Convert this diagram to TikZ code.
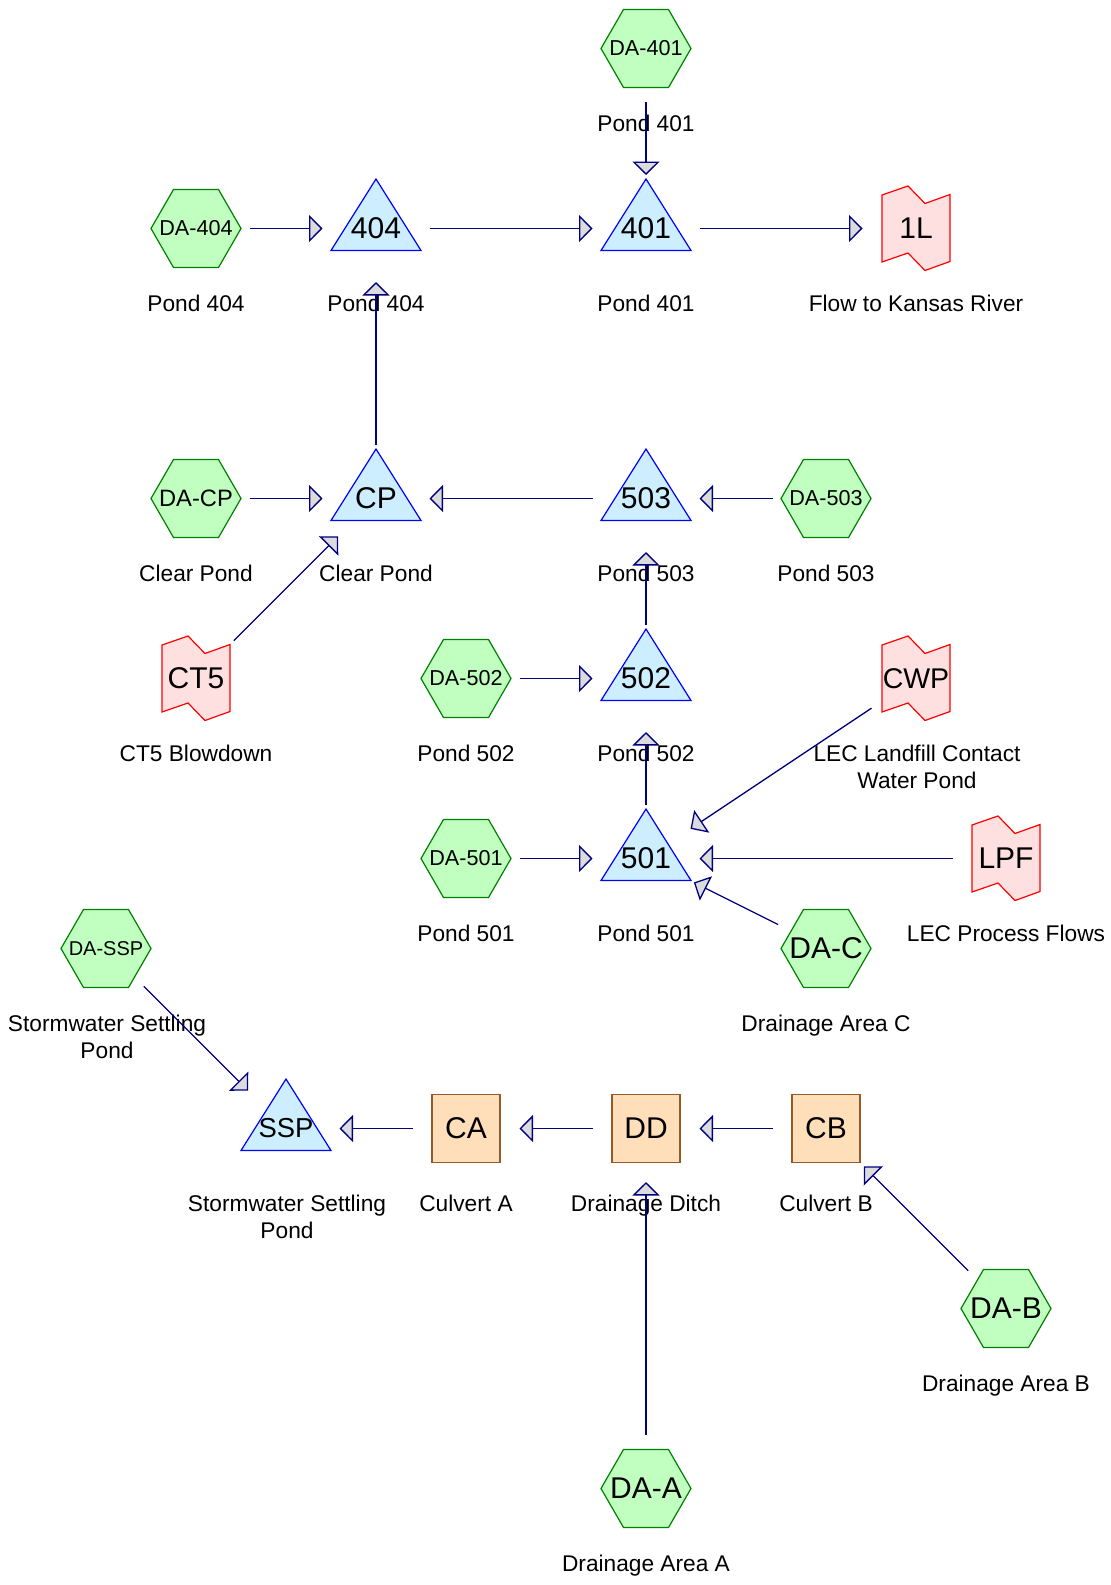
\documentclass[tikz,border=0pt]{standalone}
\usepackage{fontspec}
\setmainfont{Liberation Sans}
\usetikzlibrary{arrows.meta}
\definecolor{hexfill}{RGB}{192,255,192}
\definecolor{hexline}{RGB}{0,128,0}
\definecolor{trifill}{RGB}{204,238,255}
\definecolor{triline}{RGB}{0,0,255}
\definecolor{flagfill}{RGB}{255,224,224}
\definecolor{flagline}{RGB}{255,0,0}
\definecolor{boxfill}{RGB}{255,222,186}
\definecolor{boxline}{RGB}{150,90,40}
\definecolor{flowline}{RGB}{0,0,128}
\definecolor{tipfill}{RGB}{220,220,220}
\tikzset{
  bigtext/.style={font=\fontsize{30}{32}\selectfont},
  hexshape/.style={draw=hexline, fill=hexfill, line width=1.2pt},
  boxnode/.style={rectangle, minimum size=68pt, inner sep=0pt, draw=boxline, fill=boxfill, line width=1.2pt, bigtext},
  trishape/.style={draw=triline, fill=trifill, line width=1.2pt},
  flagshape/.style={draw=flagline, fill=flagfill, line width=1.2pt},
  shapetext/.style={inner sep=0pt, bigtext},
  lbl/.style={anchor=base, inner sep=0pt, font=\fontsize{22.7}{26.6}\selectfont},
  flow/.style={draw=flowline, line width=1.3pt, shorten <=53.5pt, shorten >=53.5pt, -{Triangle[length=13.5pt, width=27pt, fill=tipfill]}},
}
\newcommand{\sizedtext}[2]{{\fontsize{#1}{#1}\selectfont #2}}
\newcommand{\twolines}[2]{\begin{tabular}[t]{@{}c@{}}#1\\#2\end{tabular}}
\newcommand{\dahex}[4]{%
  \filldraw[hexshape, shift={(#2,#3)}] (-45,0) -- (-22.5,-39) -- (22.5,-39) -- (45,0) -- (22.5,39) -- (-22.5,39) -- cycle;
  \node[shapetext] (#1) at (#2,#3) {#4};}
\newcommand{\pondtri}[4]{%
  \filldraw[trishape] (#2,#3) ++(0,-49.5) -- ++(45,71.5) -- ++(-90,0) -- cycle;
  \node[shapetext] (#1) at (#2,#3) {#4};}
\newcommand{\srcflag}[4]{%
  \filldraw[flagshape, shift={(#2,#3)}] (-34,-33.5) -- (-8,-42.5) -- (9,-25) -- (34,-34) -- (34,33) -- (9,42) -- (-8,24.5) -- (-34,33.5) -- cycle;
  \node[shapetext] (#1) at (#2,#3) {#4};}
\begin{document}
\begin{tikzpicture}[x=1pt,y=-1pt]
\fill[white] (0,0) rectangle (1111,1585);
\useasboundingbox (0,0) rectangle (1111,1585);
% hexagons (drainage areas)
\dahex{DA401}{646}{48.5}{\sizedtext{21.6}{DA-401}}
\dahex{DA404}{196}{228.5}{\sizedtext{21.6}{DA-404}}
\dahex{DACP}{196}{498.5}{\sizedtext{23.7}{DA-CP}}
\dahex{DA503}{826}{498.5}{\sizedtext{21.6}{DA-503}}
\dahex{DA502}{466}{678.5}{\sizedtext{21.6}{DA-502}}
\dahex{DA501}{466}{858.5}{\sizedtext{21.6}{DA-501}}
\dahex{DAC}{826}{948.5}{DA-C}
\dahex{DASSP}{106}{948.5}{\sizedtext{20}{DA-SSP}}
\dahex{DAB}{1006}{1308.5}{DA-B}
\dahex{DAA}{646}{1488.5}{DA-A}
% ponds
\pondtri{P404}{376}{228.5}{404}
\pondtri{P401}{646}{228.5}{401}
\pondtri{CP}{376}{498.5}{CP}
\pondtri{P503}{646}{498.5}{503}
\pondtri{P502}{646}{678.5}{502}
\pondtri{P501}{646}{858.5}{501}
\pondtri{SSP}{286}{1128.5}{\sizedtext{27.4}{SSP}}
% flags
\srcflag{F1L}{916}{228.5}{1L}
\srcflag{CT5}{196}{678.5}{CT5}
\srcflag{CWP}{916}{678.5}{\sizedtext{28.5}{CWP}}
\srcflag{LPF}{1006}{858.5}{LPF}
% boxes
\node[boxnode] (CA) at (466,1128.5) {CA};
\node[boxnode] (DD) at (646,1128.5) {DD};
\node[boxnode] (CB) at (826,1128.5) {CB};
% labels
\node[lbl] (lDA401) at (646,131.5) {Pond 401};
\node[lbl] (lDA404) at (196,311.5) {Pond 404};
\node[lbl] (lP404) at (376,311.5) {Pond 404};
\node[lbl] (lP401) at (646,311.5) {Pond 401};
\node[lbl] (lF1L) at (916,311.5) {Flow to Kansas River};
\node[lbl] (lDACP) at (196,581.5) {Clear Pond};
\node[lbl] (lCP) at (376,581.5) {Clear Pond};
\node[lbl] (lP503) at (646,581.5) {Pond 503};
\node[lbl] (lDA503) at (826,581.5) {Pond 503};
\node[lbl] (lCT5) at (196,761.5) {CT5 Blowdown};
\node[lbl] (lDA502) at (466,761.5) {Pond 502};
\node[lbl] (lP502) at (646,761.5) {Pond 502};
\node[lbl] (lCWP) at (917,761.5) {\twolines{LEC Landfill Contact}{Water Pond}};
\node[lbl] (lDA501) at (466,941.5) {Pond 501};
\node[lbl] (lP501) at (646,941.5) {Pond 501};
\node[lbl] (lLPF) at (1006,941.5) {LEC Process Flows};
\node[lbl] (lDAC) at (826,1031.5) {Drainage Area C};
\node[lbl] (lDASSP) at (107,1031.5) {\twolines{Stormwater Settling}{Pond}};
\node[lbl] (lSSP) at (287,1211.5) {\twolines{Stormwater Settling}{Pond}};
\node[lbl] (lCA) at (466,1211.5) {Culvert A};
\node[lbl] (lDD) at (646,1211.5) {Drainage Ditch};
\node[lbl] (lCB) at (826,1211.5) {Culvert B};
\node[lbl] (lDAB) at (1006,1391.5) {Drainage Area B};
\node[lbl] (lDAA) at (646,1571.5) {Drainage Area A};
% flows
\draw[flow] (DA401.center) -- (P401.center);
\draw[flow] (DA404.center) -- (P404.center);
\draw[flow] (P404.center) -- (P401.center);
\draw[flow] (P401.center) -- (F1L.center);
\draw[flow] (CP.center) -- (P404.center);
\draw[flow] (DACP.center) -- (CP.center);
\draw[flow] (P503.center) -- (CP.center);
\draw[flow] (DA503.center) -- (P503.center);
\draw[flow] (CT5.center) -- (CP.center);
\draw[flow] (P502.center) -- (P503.center);
\draw[flow] (DA502.center) -- (P502.center);
\draw[flow] (P501.center) -- (P502.center);
\draw[flow] (CWP.center) -- (P501.center);
\draw[flow] (DA501.center) -- (P501.center);
\draw[flow] (LPF.center) -- (P501.center);
\draw[flow] (DAC.center) -- (P501.center);
\draw[flow] (DASSP.center) -- (SSP.center);
\draw[flow] (CA.center) -- (SSP.center);
\draw[flow] (DD.center) -- (CA.center);
\draw[flow] (CB.center) -- (DD.center);
\draw[flow] (DAB.center) -- (CB.center);
\draw[flow] (DAA.center) -- (DD.center);
\end{tikzpicture}
\end{document}
